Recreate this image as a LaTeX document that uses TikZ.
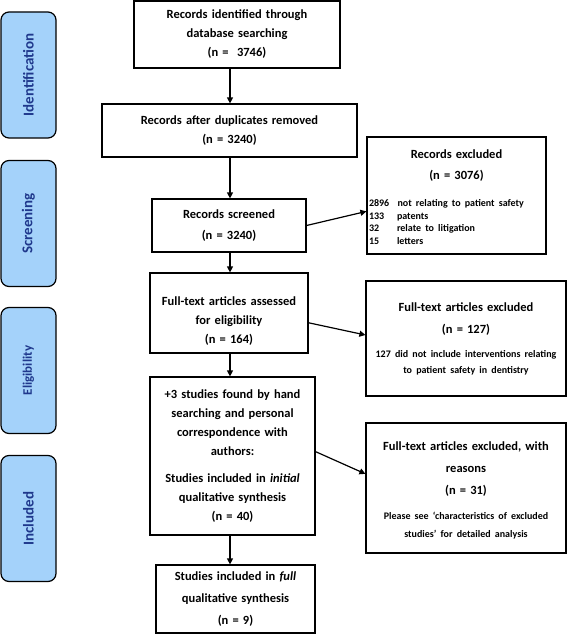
\documentclass[tikz,border=0pt]{standalone}
\usepackage{fontspec}
\setmainfont{Carlito}
\usetikzlibrary{arrows.meta}
\definecolor{stagefill}{RGB}{164,210,250}
\definecolor{stagetext}{RGB}{31,56,140}
\newcommand{\smalltxt}[1][12.5]{\fontsize{10}{#1}\selectfont}
\newcommand{\boxfont}[1][19]{\bfseries\fontsize{12.5}{#1}\selectfont}

\begin{document}
\begin{tikzpicture}[x=1pt, y=-1pt,
                    every node/.style={draw, line width=1.2pt, align=center, inner xsep=0pt, inner ysep=2pt,
                                       font=\boxfont},
                    stage/.style={fill=stagefill, rounded corners=8pt, rotate=90, minimum width=126pt,
                                  minimum height=55pt, text=stagetext, font=\bfseries\fontsize{15}{18}\selectfont},
                    arr/.style={line width=1.2pt, -{Triangle[length=6pt,width=6pt]}}
                    ]
                    \useasboundingbox (0,0) rectangle (567,642);

                    % stages on the left
                    \node[stage] (ident) at (28.5,75) {Identification};
                    \node[stage] (screen) at (28.5,223.5) {Screening};
                    \node[stage, font=\bfseries\fontsize{13}{16}\selectfont] (elig) at (28.5,370.5) {Eligibility};
                    \node[stage] (incl) at (28.5,518.5) {Included};

                    % main column
                    \coordinate (axis) at (230,0);
                    \node[text width=206pt, minimum height=67pt] (recid) at (237,34.5)
                        {Records identified through\\database searching\\(n =\ \ 3746)};
                    \node[text width=255pt, minimum height=53pt] (recdup) at (229.5,130.5)
                        {Records after duplicates removed\\(n = 3240)};
                    \node[text width=154pt, minimum height=53pt, font={\boxfont[21]}] (recscr) at (229,225.5)
                        {Records screened\\(n = 3240)};
                    \node[text width=158pt, minimum height=80pt] (ftassess) at (229,313)
                        {\rule{0pt}{25pt}Full-text articles assessed\\for eligibility\\(n = 164)};
                    \node[text width=165pt, minimum height=158pt] (incinit) at (232.5,456)
                        {+3 studies found by hand\\searching and personal\\correspondence with\\authors:\\[8pt]
                         Studies included in \textit{initial}\\qualitative synthesis\\(n = 40)};
                    \node[text width=159pt, minimum height=68pt, font={\boxfont[22]}] (incfull) at (235.5,599)
                        {Studies included in \textit{full}\\qualitative synthesis\\(n = 9)};

                    % exclusions on the right
                    \node[text width=179pt, minimum height=117pt, font={\boxfont[21]}] (recexcl) at (456.5,195.5)
                        {\rule{0pt}{15pt}Records excluded\\(n = 3076)\par\vspace{16pt}
                         {\smalltxt\raggedright\hspace*{2pt}\begin{tabular}{@{}l@{}}
                            2896\ \ not relating to patient safety\\
                            \makebox[28pt][l]{133}patents\\
                            \makebox[28pt][l]{32}relate to litigation\\
                            \makebox[28pt][l]{15}letters
                          \end{tabular}\par}};
                    \node[text width=200pt, minimum height=115pt, font={\boxfont[22]}] (ftexcl) at (466,338.5)
                        {Full-text articles excluded\\(n = 127)\par\vspace{8pt}
                         {\smalltxt[16] 127 did not include interventions relating\\to patient safety in dentistry\par}
                         \vspace{9pt}};
                    \node[text width=200pt, minimum height=130pt, font={\boxfont[22]}] (ftreason) at (466,488)
                        {\rule{0pt}{14pt}Full-text articles excluded, with\\reasons\\(n = 31)\par\vspace{7pt}
                         {\smalltxt[18] Please see ‘characteristics of excluded\\studies’ for detailed analysis\par}};

                    \foreach \i/\j in {recid/recdup,recdup/recscr,recscr/ftassess,ftassess/incinit,incinit/incfull}{
                        \draw[arr] (\i.south -| axis) -- (\j.north -| axis);
                    }
                    \draw[arr] (recscr.east) -- (recexcl.190);
                    \draw[arr] (ftassess.-7) -- (ftexcl.178);
                    \draw[arr] (incinit.3) -- (ftreason.172);
                \end{tikzpicture}
\end{document}
